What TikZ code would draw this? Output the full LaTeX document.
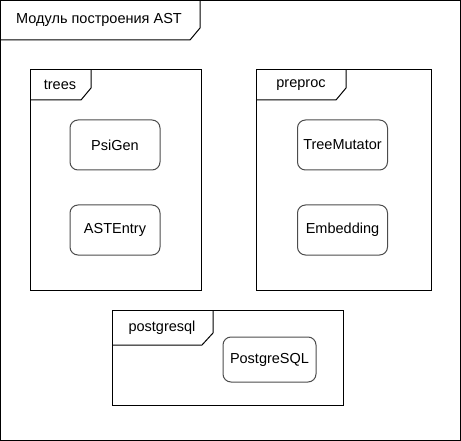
\documentclass[tikz,border=0pt]{standalone}
\usepackage{fontspec}
\setmainfont{Liberation Sans}
\begin{document}
\begin{tikzpicture}[x=1pt,y=-1pt,
  frame/.style={draw=black,line width=1pt},
  tab/.style={draw=black,line width=1pt,line join=miter},
  lbl/.style={font=\fontsize{14.5}{17}\selectfont,inner sep=0pt},
  comp/.style={draw=black!70,line width=1pt,rounded corners=8pt,minimum width=90pt,minimum height=50pt,font=\fontsize{14.5}{17}\selectfont,inner sep=0pt}]
\useasboundingbox (0,0) rectangle (461,441);
% outer frame
\draw[frame] (0.5,0.5) rectangle (460,440);
\draw[tab] (0.5,40) -- (190,40) -- (200,28) -- (200,0.5);
\node[lbl] (outerlbl) at (99,20) {Модуль построения AST};
% trees
\draw[frame] (30,70) rectangle (201,290);
\draw[tab] (30,100) -- (81,100) -- (91,88) -- (91,70);
\node[lbl] (treeslbl) at (60,85) {trees};
\node[comp] (psigen) at (115,145) {PsiGen};
\node[comp] (astentry) at (115,230) {ASTEntry};
% preproc
\draw[frame] (256,70) rectangle (431,290);
\draw[tab] (256,100) -- (336,100) -- (346,88) -- (346,70);
\node[lbl] (preproclbl) at (301,85) {preproc};
\node[comp] (treemut) at (342.5,145) {TreeMutator};
\node[comp] (embed) at (342.5,230) {Embedding};
% postgresql
\draw[frame] (112,310) rectangle (343,405);
\draw[tab] (112,345) -- (202,345) -- (213,333) -- (213,310);
\node[lbl] (pglbl) at (162,328) {postgresql};
\node[comp,minimum width=93pt,minimum height=45pt] (pg) at (269.5,359.5) {PostgreSQL};
\end{tikzpicture}
\end{document}
